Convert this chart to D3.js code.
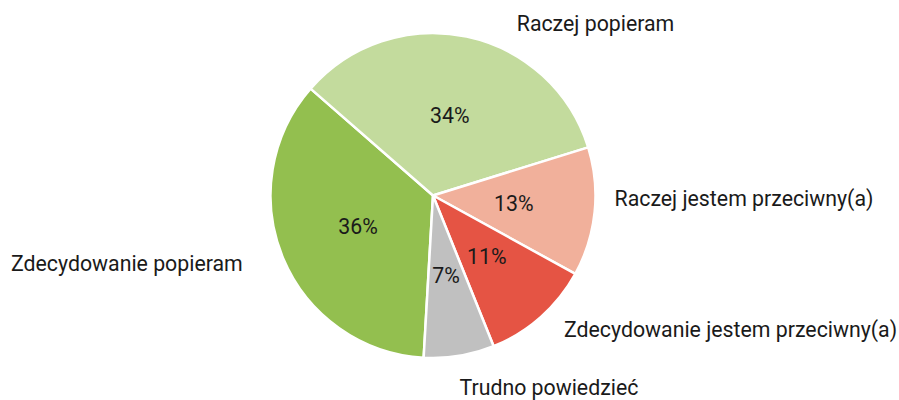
<!DOCTYPE html>
<html>
<head>
<meta charset="utf-8">
<script src="https://cdn.jsdelivr.net/npm/d3@7"></script>
<style>
  html, body { margin: 0; padding: 0; background: #fff; }
  svg { display: block; font-family: Roboto, "Noto Sans", sans-serif; }
</style>
</head>
<body>
<svg id="chart"></svg>
<script>
// Dane (udział w %)
const categories = [
    "Zdecydowanie popieram",
    "Raczej popieram",
    "Raczej jestem przeciwny(a)",
    "Zdecydowanie jestem przeciwny(a)",
    "Trudno powiedzieć"
];
const values = [35.5, 33.8, 12.8, 10.9, 7.0];
const percentLabels = ["36%", "34%", "13%", "11%", "7%"];
const colors = ["#93bf4f", "#c3db9d", "#f1b09b", "#e55444", "#c0c0c0"];

const width = 899;
const height = 400;
const cx = 433, cy = 195.5;
const radius = 162.5;
const START_ANGLE = 183.3 * Math.PI / 180; // początek pierwszego wycinka

// ręczne przesunięcia etykiet zewnętrznych (dx, dy)
const LABEL_NUDGE = [[-22, -3], [46, 7], [0, -15], [10, -3], [-3, 12]];

const svg = d3.select("#chart")
    .attr("width", width)
    .attr("height", height);

const g = svg.append("g").attr("transform", `translate(${cx},${cy})`);

const pie = d3.pie()
    .sort(null)
    .value(d => d)
    .startAngle(START_ANGLE)
    .endAngle(START_ANGLE + 2 * Math.PI);

const arcs = pie(values);

const arc = d3.arc().innerRadius(0).outerRadius(radius);
const labelArc = d3.arc().innerRadius(radius + 20).outerRadius(radius + 20);

// Wycinki
g.selectAll("path.slice")
    .data(arcs)
    .join("path")
    .attr("class", "slice")
    .attr("d", arc)
    .attr("fill", (d, i) => colors[i])
    .attr("stroke", "#fff")
    .attr("stroke-width", 2.5)
    .attr("stroke-linejoin", "round");

// Procenty w środku
g.selectAll("text.pct")
    .data(arcs)
    .join("text")
    .attr("class", "pct")
    .attr("transform", d => `translate(${arc.centroid(d)})`)
    .attr("text-anchor", "middle")
    .attr("dy", "0.35em")
    .style("font-size", "21.3px")
    .style("fill", "#1a1a1a")
    .text((d, i) => percentLabels[i]);

// Etykiety kategorii
g.selectAll("text.cat")
    .data(arcs)
    .join("text")
    .attr("class", "cat")
    .attr("transform", (d, i) => {
        const [x, y] = labelArc.centroid(d);
        return `translate(${x + LABEL_NUDGE[i][0]},${y + LABEL_NUDGE[i][1]})`;
    })
    .attr("text-anchor", d => Math.sin((d.startAngle + d.endAngle) / 2) < 0 ? "end" : "start")
    .attr("dy", "0.35em")
    .style("font-size", "21.3px")
    .style("fill", "#1a1a1a")
    .text((d, i) => categories[i]);
</script>
</body>
</html>
